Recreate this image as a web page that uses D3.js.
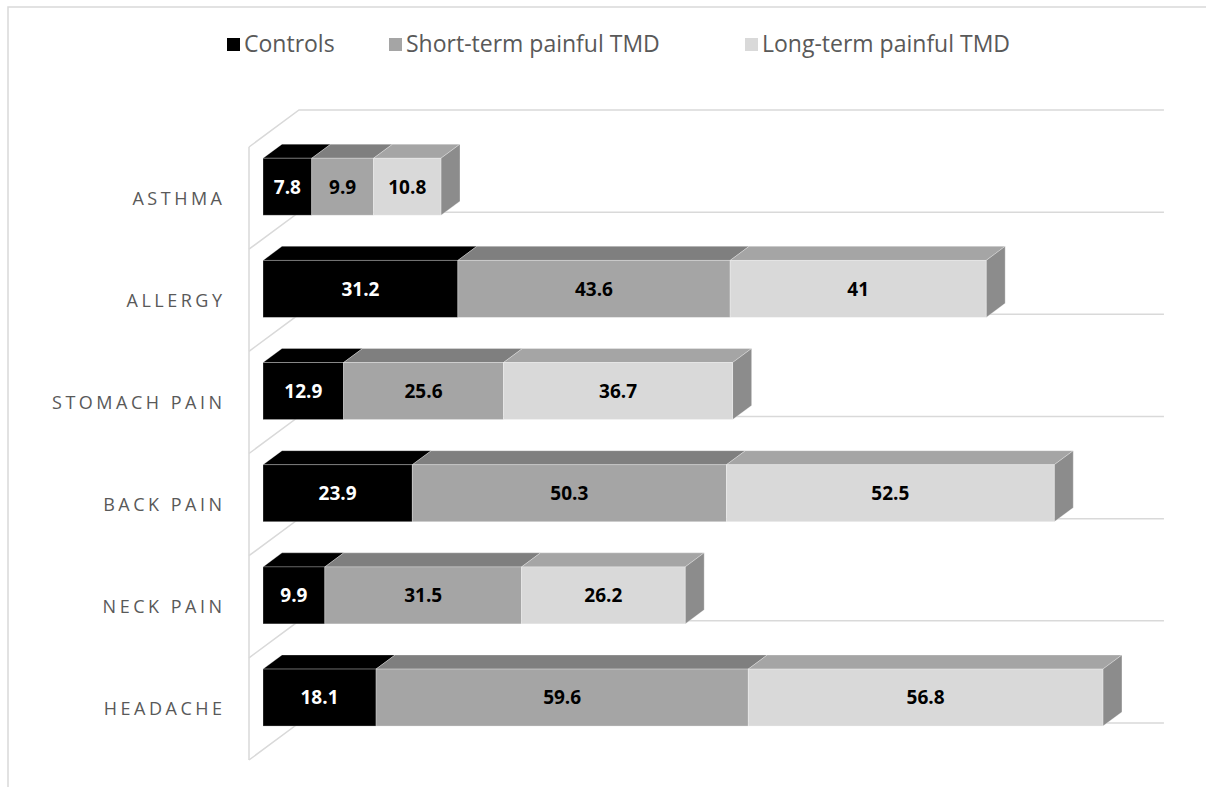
<!DOCTYPE html>
<html>
<head>
<meta charset="utf-8">
<script src="https://cdn.jsdelivr.net/npm/d3@7"></script>
<style>
  html, body { margin: 0; background: #ffffff; overflow: hidden; }
  svg { display: block; }
</style>
</head>
<body>
<svg id="chart"></svg>
<script>
// Data (top to bottom)
const categories = ['ASTHMA', 'ALLERGY', 'STOMACH PAIN', 'BACK PAIN', 'NECK PAIN', 'HEADACHE'];
const controls = [7.8, 31.2, 12.9, 23.9, 9.9, 18.1];
const shortTerm = [9.9, 43.6, 25.6, 50.3, 31.5, 59.6];
const longTerm = [10.8, 41, 36.7, 52.5, 26.2, 56.8];
const seriesNames = ['Controls', 'Short-term painful TMD', 'Long-term painful TMD'];

const width = 1206;
const height = 787;

const svg = d3.select('#chart')
    .attr('width', width)
    .attr('height', height);

// Outer border of the chart area (only top and left edges are in view)
svg.append('path')
    .attr('d', d3.line()([[8, height], [8, 7], [width, 7]]))
    .attr('fill', 'none')
    .attr('stroke', '#d9d9d9')
    .attr('stroke-width', 1.5);

// Scales (front plane of the wall, z = 0)
const xScale = d3.scaleLinear()
    .domain([0, 140])
    .range([249, 249 + 140 * 6.245]);

const yScale = d3.scaleBand()
    .domain(categories)
    .range([147, 760]);

// Oblique depth: z from 0 (front) to 1 (back of the floor)
const depthX = 50;
const depthY = -37;
const px = (v, z) => xScale(v) + depthX * z;
const py = (y, z) => y + depthY * z;

// Bar depth range and bar height inside a band
const zFront = 0.28;
const zBack = 0.66;
const barH = 57;

// Wall / floor lines
const wall = svg.append('g')
    .attr('fill', 'none')
    .attr('stroke', '#d9d9d9')
    .attr('stroke-width', 1.5);

wall.append('line')
    .attr('x1', px(0, 0)).attr('y1', yScale.range()[0])
    .attr('x2', px(0, 0)).attr('y2', yScale.range()[1]);

const bounds = categories.map(c => yScale(c)).concat([yScale.range()[1]]);
bounds.forEach(yb => {
    wall.append('path')
        .attr('d', d3.line()([
            [px(0, 0), py(yb, 0)],
            [px(0, 1), py(yb, 1)],
            [px(138.5, 1), py(yb, 1)]
        ]));
});

// Colors: front, top, side
const colors = [
    { front: '#000000', top: '#000000', side: '#000000', text: '#ffffff' },
    { front: '#a5a5a5', top: '#7f7f7f', side: '#7f7f7f', text: '#000000' },
    { front: '#d9d9d9', top: '#a5a5a5', side: '#8c8c8c', text: '#000000' }
];

// Stack the series
const table = categories.map((c, i) => ({ cat: c, values: [controls[i], shortTerm[i], longTerm[i]] }));

const bars = svg.append('g');
const edge = 'rgba(255,255,255,0.35)';

table.forEach(row => {
    // front top edge of this bar in the z = 0 plane
    const y0 = yScale(row.cat) + yScale.bandwidth() / 2 - barH / 2 - 1;
    const y1 = y0 + barH;
    let start = 0;
    row.values.forEach((v, k) => {
        const end = start + v;
        const c = colors[k];
        // top face
        bars.append('path')
            .attr('d', d3.line()([
                [px(start, zFront), py(y0, zFront)],
                [px(start, zBack), py(y0, zBack)],
                [px(end, zBack), py(y0, zBack)],
                [px(end, zFront), py(y0, zFront)]
            ]) + 'Z')
            .attr('fill', c.top)
            .attr('stroke', edge)
            .attr('stroke-width', 0.8);
        // right side face only for the last segment
        if (k === row.values.length - 1) {
            bars.append('path')
                .attr('d', d3.line()([
                    [px(end, zFront), py(y0, zFront)],
                    [px(end, zBack), py(y0, zBack)],
                    [px(end, zBack), py(y1, zBack)],
                    [px(end, zFront), py(y1, zFront)]
                ]) + 'Z')
                .attr('fill', c.side)
                .attr('stroke', edge)
                .attr('stroke-width', 0.8);
        }
        // front face
        bars.append('rect')
            .attr('x', px(start, zFront))
            .attr('y', py(y0, zFront))
            .attr('width', px(end, zFront) - px(start, zFront))
            .attr('height', barH)
            .attr('fill', c.front)
            .attr('stroke', edge)
            .attr('stroke-width', 0.8);
        // value label
        bars.append('text')
            .attr('x', (px(start, zFront) + px(end, zFront)) / 2)
            .attr('y', py(y0, zFront) + barH / 2)
            .attr('dy', '0.36em')
            .attr('text-anchor', 'middle')
            .attr('font-family', 'Open Sans')
            .attr('font-weight', 'bold')
            .attr('font-size', '19px')
            .attr('fill', c.text)
            .text(v);
        start = end;
    });
});

// Category labels
svg.append('g')
    .selectAll('text')
    .data(categories)
    .join('text')
    .attr('x', 222 + 3.5)
    .attr('y', d => yScale(d) + yScale.bandwidth() / 2)
    .attr('dy', '0.36em')
    .attr('text-anchor', 'end')
    .attr('font-family', 'Open Sans')
    .attr('font-size', '18px')
    .attr('letter-spacing', '3.5px')
    .attr('fill', '#595959')
    .text(d => d);

// Legend
const legendX = [227, 389, 745];
const legend = svg.append('g');
seriesNames.forEach((name, k) => {
    legend.append('rect')
        .attr('x', legendX[k])
        .attr('y', 38)
        .attr('width', 13)
        .attr('height', 13)
        .attr('fill', colors[k].front);
    legend.append('text')
        .attr('x', legendX[k] + 17)
        .attr('y', 44)
        .attr('dy', '0.36em')
        .attr('font-family', 'Open Sans')
        .attr('font-size', '23px')
        .attr('fill', '#595959')
        .text(name);
});
</script>
</body>
</html>
